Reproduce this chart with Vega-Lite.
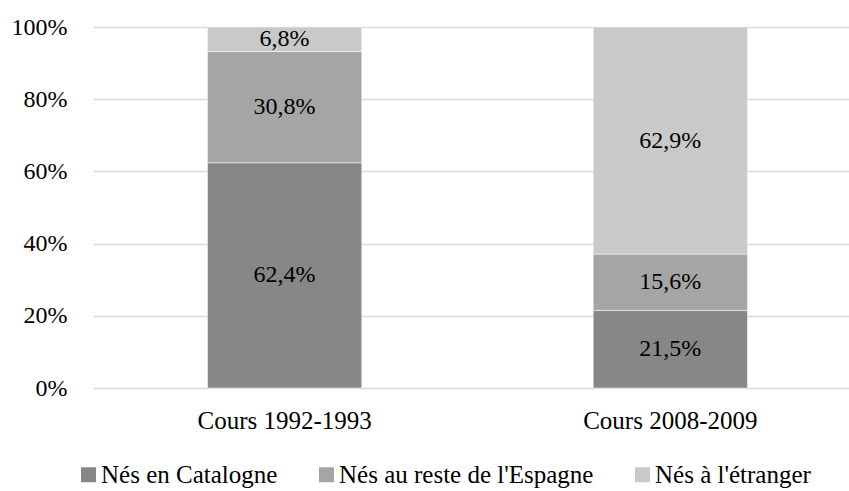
{
  "$schema": "https://vega.github.io/schema/vega-lite/v6.json",
  "width": 756,
  "height": 361,
  "autosize": {"type": "none"},
  "padding": {"left": 93, "top": 27, "right": 0, "bottom": 103},
  "config": {
    "locale": {"number": {"decimal": ",", "thousands": " ", "grouping": [3], "currency": ["", " €"]}},
    "font": "Liberation Serif",
    "view": {"stroke": null}
  },
  "data": {
    "values": [
      {"cat": "Cours 1992-1993", "group": "Nés en Catalogne", "order": 1, "value": 0.624},
      {"cat": "Cours 1992-1993", "group": "Nés au reste de l'Espagne", "order": 2, "value": 0.308},
      {"cat": "Cours 1992-1993", "group": "Nés à l'étranger", "order": 3, "value": 0.068},
      {"cat": "Cours 2008-2009", "group": "Nés en Catalogne", "order": 1, "value": 0.215},
      {"cat": "Cours 2008-2009", "group": "Nés au reste de l'Espagne", "order": 2, "value": 0.156},
      {"cat": "Cours 2008-2009", "group": "Nés à l'étranger", "order": 3, "value": 0.629}
    ]
  },
  "transform": [
    {"stack": "value", "groupby": ["cat"], "sort": [{"field": "order", "order": "ascending"}], "as": ["y0", "y1"]}
  ],
  "encoding": {
    "x": {
      "field": "cat", "type": "nominal", "title": null, "sort": null,
      "scale": {"paddingInner": 0.6, "paddingOuter": 0.28, "align": 0.53},
      "axis": {"labelAngle": 0, "domain": false, "ticks": false, "labelPadding": 20, "grid": false, "labelFont": "Liberation Serif", "labelFontSize": 25, "labelColor": "#000000"}
    }
  },
  "layer": [
    {
      "mark": {"type": "bar", "stroke": "#ffffff", "strokeWidth": 0.5},
      "encoding": {
        "y": {
          "field": "y0", "type": "quantitative", "title": null,
          "scale": {"domain": [0, 1], "nice": false},
          "axis": {"values": [0, 0.2, 0.4, 0.6, 0.8, 1], "format": ".0%", "domain": false, "ticks": false, "labelPadding": 26, "grid": true, "gridColor": "#d9d9d9", "gridWidth": 1.5, "labelFont": "Liberation Serif", "labelFontSize": 24, "labelColor": "#000000"}
        },
        "y2": {"field": "y1"},
        "color": {
          "field": "group", "type": "nominal",
          "scale": {"domain": ["Nés en Catalogne", "Nés au reste de l'Espagne", "Nés à l'étranger"], "range": ["#878787", "#a5a5a5", "#c9c9c9"]},
          "legend": {
            "title": null, "orient": "none", "legendX": -17, "legendY": 435, "direction": "horizontal",
            "symbolType": "square", "symbolSize": 225, "symbolStrokeWidth": 0, "columnPadding": 36, "labelOffset": 0,
            "labelFont": "Liberation Serif", "labelFontSize": 25, "labelColor": "#000000", "labelLimit": 0
          }
        }
      }
    },
    {
      "transform": [
        {"fold": ["y0", "y1"], "as": ["edge", "pos"]},
        {"aggregate": [{"op": "mean", "field": "pos", "as": "ymid"}, {"op": "max", "field": "value", "as": "value"}], "groupby": ["cat", "group"]}
      ],
      "mark": {"type": "text", "fontSize": 24, "color": "#000000", "baseline": "middle", "font": "Liberation Serif"},
      "encoding": {
        "y": {"field": "ymid", "type": "quantitative"},
        "text": {"field": "value", "type": "quantitative", "format": ".1%"}
      }
    }
  ]
}
